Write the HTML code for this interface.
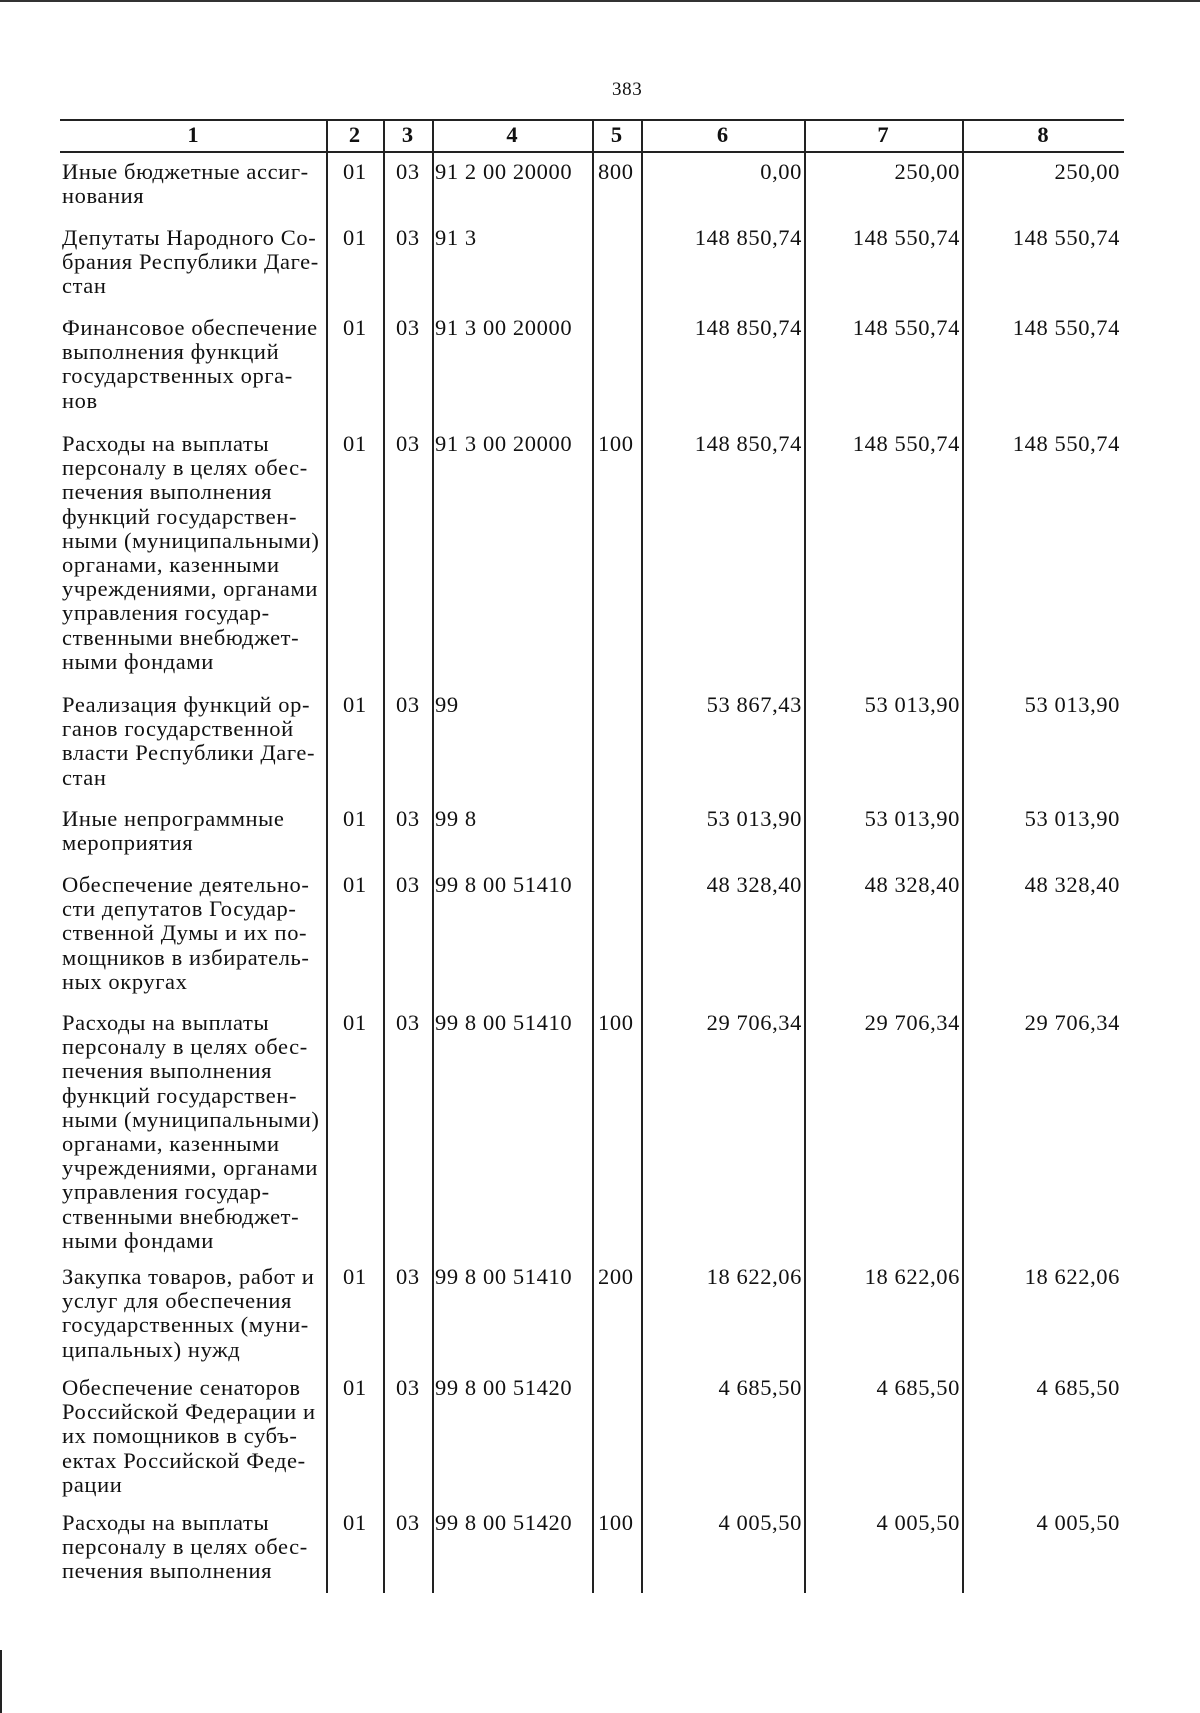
<!DOCTYPE html>
<html><head><meta charset="utf-8"><style>
body{margin:0;width:1200px;height:1713px;background:#fff;position:relative;overflow:hidden;font-family:"Liberation Serif",serif;color:#111}
.t{position:absolute;font-size:22.5px;line-height:24.2px;white-space:nowrap;letter-spacing:0.6px}
.r{text-align:right}
.v{position:absolute;top:120px;height:1473px;width:1.5px;background:#222}
.h{position:absolute;left:60px;width:1064px;background:#222}
.hd{position:absolute;top:122px;font-weight:bold;font-size:22.5px;text-align:center}
</style></head><body>
<div style="position:absolute;left:0;top:0;width:1200px;height:2px;background:#333"></div>
<div class="t" style="left:612px;top:78px;font-size:19px">383</div>
<div class="h" style="top:119px;height:2px"></div>
<div class="h" style="top:151px;height:1.5px"></div>
<div class="v" style="left:326px"></div>
<div class="v" style="left:383px"></div>
<div class="v" style="left:432px"></div>
<div class="v" style="left:592px"></div>
<div class="v" style="left:641px"></div>
<div class="v" style="left:804px"></div>
<div class="v" style="left:962px"></div>
<div style="position:absolute;left:0;top:1650px;width:2px;height:63px;background:#222"></div>
<div class="hd" style="left:60px;width:266px">1</div>
<div class="hd" style="left:326px;width:57px">2</div>
<div class="hd" style="left:383px;width:49px">3</div>
<div class="hd" style="left:432px;width:160px">4</div>
<div class="hd" style="left:592px;width:49px">5</div>
<div class="hd" style="left:641px;width:163px">6</div>
<div class="hd" style="left:804px;width:158px">7</div>
<div class="hd" style="left:962px;width:162px">8</div>
<div id="rows"></div>
<script>
var R=[
[160,"Иные бюджетные ассиг-<br>нования","01","03","91 2 00 20000","800","0,00","250,00","250,00"],
[226,"Депутаты Народного Со-<br>брания Республики Даге-<br>стан","01","03","91 3","","148 850,74","148 550,74","148 550,74"],
[316,"Финансовое обеспечение<br>выполнения функций<br>государственных орга-<br>нов","01","03","91 3 00 20000","","148 850,74","148 550,74","148 550,74"],
[432,"Расходы на выплаты<br>персоналу в целях обес-<br>печения выполнения<br>функций государствен-<br>ными (муниципальными)<br>органами, казенными<br>учреждениями, органами<br>управления государ-<br>ственными внебюджет-<br>ными фондами","01","03","91 3 00 20000","100","148 850,74","148 550,74","148 550,74"],
[693,"Реализация функций ор-<br>ганов государственной<br>власти Республики Даге-<br>стан","01","03","99","","53 867,43","53 013,90","53 013,90"],
[807,"Иные непрограммные<br>мероприятия","01","03","99 8","","53 013,90","53 013,90","53 013,90"],
[873,"Обеспечение деятельно-<br>сти депутатов Государ-<br>ственной Думы и их по-<br>мощников в избиратель-<br>ных округах","01","03","99 8 00 51410","","48 328,40","48 328,40","48 328,40"],
[1011,"Расходы на выплаты<br>персоналу в целях обес-<br>печения выполнения<br>функций государствен-<br>ными (муниципальными)<br>органами, казенными<br>учреждениями, органами<br>управления государ-<br>ственными внебюджет-<br>ными фондами","01","03","99 8 00 51410","100","29 706,34","29 706,34","29 706,34"],
[1265,"Закупка товаров, работ и<br>услуг для обеспечения<br>государственных (муни-<br>ципальных) нужд","01","03","99 8 00 51410","200","18 622,06","18 622,06","18 622,06"],
[1376,"Обеспечение сенаторов<br>Российской Федерации и<br>их помощников в субъ-<br>ектах Российской Феде-<br>рации","01","03","99 8 00 51420","","4 685,50","4 685,50","4 685,50"],
[1511,"Расходы на выплаты<br>персоналу в целях обес-<br>печения выполнения","01","03","99 8 00 51420","100","4 005,50","4 005,50","4 005,50"]
];
var h="";
R.forEach(function(r){var y=r[0];
h+='<div class="t" style="left:62px;top:'+y+'px">'+r[1]+'</div>';
h+='<div class="t" style="left:343px;top:'+y+'px">'+r[2]+'</div>';
h+='<div class="t" style="left:396px;top:'+y+'px">'+r[3]+'</div>';
h+='<div class="t" style="left:435px;top:'+y+'px">'+r[4]+'</div>';
h+='<div class="t" style="left:598px;top:'+y+'px">'+r[5]+'</div>';
h+='<div class="t r" style="left:641px;width:161px;top:'+y+'px">'+r[6]+'</div>';
h+='<div class="t r" style="left:804px;width:156px;top:'+y+'px">'+r[7]+'</div>';
h+='<div class="t r" style="left:962px;width:158px;top:'+y+'px">'+r[8]+'</div>';
});
document.getElementById("rows").innerHTML=h;
</script>
</body></html>
